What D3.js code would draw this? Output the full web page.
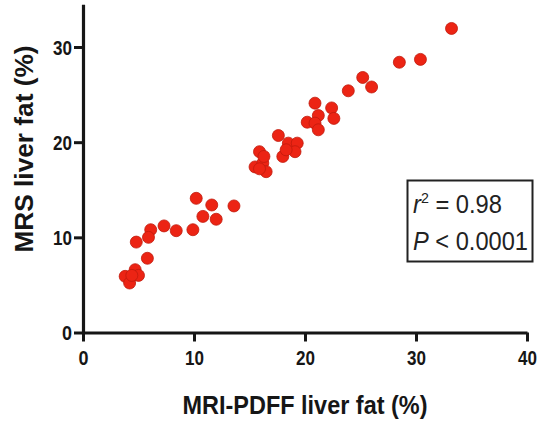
<!DOCTYPE html>
<html>
<head>
<meta charset="utf-8">
<script src="https://cdn.jsdelivr.net/npm/d3@7"></script>
<style>
  html, body { margin: 0; padding: 0; background: #fff; }
  svg { display: block; }
  text { font-family: "Liberation Sans", Arial, Helvetica, sans-serif; }
</style>
</head>
<body>
<svg id="chart" width="540" height="421"></svg>
<script>
// MRI-PDFF liver fat (%) vs MRS liver fat (%)
const mriPdff = [33.2, 30.4, 28.5, 25.2, 26.0, 23.9, 22.4, 22.6, 20.9, 21.2,
                 20.2, 20.9, 21.2, 17.6, 18.5, 19.3, 19.1, 18.0, 18.3, 15.9,
                 15.5, 16.2, 16.5, 15.9, 16.3, 10.2, 11.6, 13.6, 10.8, 12.0,
                 9.9, 8.4, 7.3, 6.1, 5.9, 4.8, 5.8, 3.8, 4.7, 5.0, 4.2, 4.4];
const mrsFat  = [31.95, 28.7, 28.4, 26.8, 25.8, 25.4, 23.6, 22.5, 24.1, 22.8,
                 22.1, 22.0, 21.3, 20.7, 19.9, 19.9, 19.0, 18.5, 19.2, 19.0,
                 17.4, 17.8, 16.9, 17.2, 18.5, 14.1, 13.4, 13.3, 12.2, 11.9,
                 10.8, 10.7, 11.2, 10.8, 10.0, 9.5, 7.8, 5.9, 6.6, 6.0, 5.2, 6.0];
const xTicks = [0, 10, 20, 30, 40];
const yTicks = [0, 10, 20, 30];
const statLines = [
  { italic: "r", sup: "2", rest: " = 0.98" },
  { italic: "P", sup: "", rest: " < 0.0001" }
];

const points = mriPdff.map((v, i) => ({ x: v, y: mrsFat[i] }));

const svg = d3.select("#chart");
const x = d3.scaleLinear().domain([0, 40]).range([83, 527]);
const y = d3.scaleLinear().domain([0, 34.5]).range([332.5, 4.2]);

// points first so the axes sit on top
svg.append("g")
  .selectAll("circle")
  .data(points)
  .join("circle")
  .attr("cx", d => x(d.x))
  .attr("cy", d => y(d.y))
  .attr("r", 6)
  .attr("fill", "#ec2414")
  .attr("stroke", "#c01a0c")
  .attr("stroke-width", 0.8);

const xAxis = svg.append("g")
  .attr("transform", `translate(0,${y(0)})`)
  .call(d3.axisBottom(x).tickValues(xTicks).tickSize(9).tickPadding(4).tickSizeOuter(0));
const yAxis = svg.append("g")
  .attr("transform", `translate(${x(0)},0)`)
  .call(d3.axisLeft(y).tickValues(yTicks).tickSize(9).tickPadding(2).tickSizeOuter(0));

[xAxis, yAxis].forEach(g => {
  g.select(".domain").attr("stroke", "#161616").attr("stroke-width", 3.2);
  g.selectAll(".tick line").attr("stroke", "#161616").attr("stroke-width", 3);
  g.selectAll(".tick text")
    .attr("fill", "#161616")
    .style("font-size", "20px")
    .style("font-weight", "bold")
    .attr("textLength", d => d === 0 ? 10 : 19)
    .attr("lengthAdjust", "spacingAndGlyphs");
});
xAxis.selectAll(".tick text").attr("dy", "0.95em");
yAxis.selectAll(".tick text").attr("dy", "0.36em");

// axis titles
svg.append("text")
  .attr("x", 305).attr("y", 414)
  .attr("text-anchor", "middle")
  .attr("fill", "#161616")
  .style("font-size", "25px").style("font-weight", "bold")
  .attr("textLength", 245).attr("lengthAdjust", "spacingAndGlyphs")
  .text("MRI-PDFF liver fat (%)");

svg.append("text")
  .attr("transform", "translate(33,149) rotate(-90)")
  .attr("text-anchor", "middle")
  .attr("fill", "#161616")
  .style("font-size", "25px").style("font-weight", "bold")
  .attr("textLength", 207).attr("lengthAdjust", "spacingAndGlyphs")
  .text("MRS liver fat (%)");

// statistics box
svg.append("rect")
  .attr("x", 407.5).attr("y", 180.5)
  .attr("width", 125).attr("height", 81)
  .attr("fill", "#fff")
  .attr("stroke", "#222").attr("stroke-width", 2);

const stat = svg.append("g");
statLines.forEach((s, i) => {
  const t = stat.append("text")
    .attr("x", 413).attr("y", 213 + i * 37)
    .attr("fill", "#222")
    .style("font-size", "25px");
  t.append("tspan").style("font-style", "italic").text(s.italic);
  if (s.sup) {
    t.append("tspan").attr("dy", -10).style("font-size", "15px").text(s.sup);
    t.append("tspan").attr("dy", 10).text(s.rest);
  } else {
    t.append("tspan").text(s.rest);
  }
  t.attr("textLength", i === 0 ? 89 : 115).attr("lengthAdjust", "spacingAndGlyphs");
});
</script>
</body>
</html>
